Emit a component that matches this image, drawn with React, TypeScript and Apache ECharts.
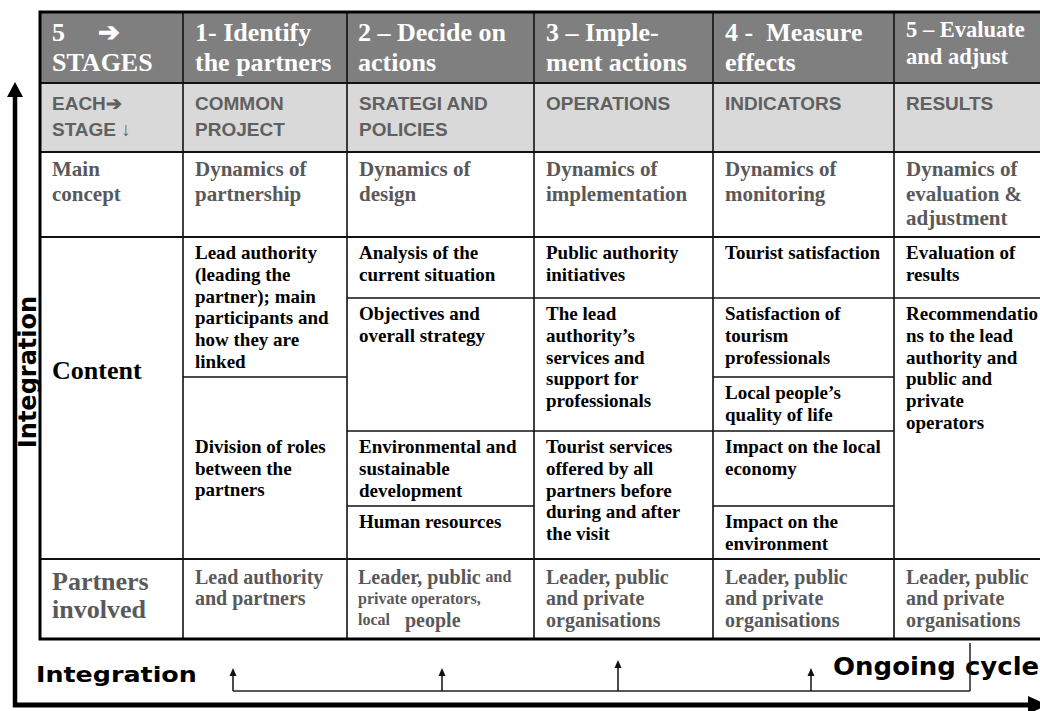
import React, { useEffect, useRef } from "react";
import * as echarts from "echarts";

// ---- texts (data) ----
const stageTitles = [
  "5     ➔\nSTAGES",
  "1- Identify\nthe partners",
  "2 – Decide on\nactions",
  "3 – Imple-\nment actions",
  "4 -  Measure\neffects",
  "5 – Evaluate\nand adjust",
];
const stageFocus = ["EACH➔\nSTAGE ↓", "COMMON\nPROJECT", "SRATEGI AND\nPOLICIES", "OPERATIONS", "INDICATORS", "RESULTS"];
const mainConcepts = [
  "Main\nconcept",
  "Dynamics of\npartnership",
  "Dynamics of\ndesign",
  "Dynamics of\nimplementation",
  "Dynamics of\nmonitoring",
  "Dynamics of\nevaluation &\nadjustment",
];
const contentLabel = "Content";
const contentIdentify = [
  "Lead authority\n(leading the\npartner); main\nparticipants and\nhow they are\nlinked",
  "Division of roles\nbetween the\npartners",
];
const contentDecide = [
  "Analysis of the\ncurrent situation",
  "Objectives and\noverall strategy",
  "Environmental and\nsustainable\ndevelopment",
  "Human resources",
];
const contentImplement = [
  "Public authority\ninitiatives",
  "The lead\nauthority’s\nservices and\nsupport for\nprofessionals",
  "Tourist services\noffered by all\npartners before\nduring and after\nthe visit",
];
const contentMeasure = [
  "Tourist satisfaction",
  "Satisfaction of\ntourism\nprofessionals",
  "Local people’s\nquality of life",
  "Impact on the local\neconomy",
  "Impact on the\nenvironment",
];
const contentEvaluate = [
  "Evaluation of\nresults",
  "Recommendatio\nns to the lead\nauthority and\npublic and\nprivate\noperators",
];
const partnersInvolved = [
  "Partners\ninvolved",
  "Lead authority\nand partners",
  "{b|Leader, public} {s|and}\n{s|private operators,}\n{s|local}   {b|people}",
  "Leader, public\nand private\norganisations",
  "Leader, public\nand private\norganisations",
  "Leader, public\nand private\norganisations",
];
const verticalAxisLabel = "Integration";
const bottomLeftLabel = "Integration";
const bottomRightLabel = "Ongoing cycle";

// ---- layout ----
const colX = [40, 183, 347, 534, 713, 894, 1076];
const rowY = [12, 83, 152, 237, 559, 639];
const contentColumns = [contentIdentify, contentDecide, contentImplement, contentMeasure, contentEvaluate];
const contentSplits = [
  [237, 377, 559],
  [237, 298, 431, 506, 559],
  [237, 298, 431, 559],
  [237, 298, 377, 431, 506, 559],
  [237, 298, 559],
];

const SERIF = "'Liberation Serif', 'Times New Roman', serif";
const SANS = "'Liberation Sans', Arial, sans-serif";
const HEAVY = "'DejaVu Sans', Verdana, sans-serif";
const GRAY_TEXT = "#595959";

function txt(x: number, y: number, text: string, s: any, extra: any = {}) {
  return {
    type: "text",
    x,
    y,
    silent: true,
    ...extra,
    style: {
      text,
      align: "left",
      verticalAlign: "top",
      fontWeight: "bold",
      ...s,
    },
  };
}
function ln(x1: number, y1: number, x2: number, y2: number, w = 1.6, c = "#111") {
  return { type: "line", silent: true, shape: { x1, y1, x2, y2 }, style: { stroke: c, lineWidth: w } };
}
function tri(points: number[][], c = "#000") {
  return { type: "polygon", silent: true, shape: { points }, style: { fill: c } };
}

function buildElements() {
  const els: any[] = [];
  const left = colX[0];
  const right = colX[colX.length - 1];
  // backgrounds
  els.push({ type: "rect", shape: { x: left, y: rowY[0], width: right - left, height: rowY[1] - rowY[0] }, style: { fill: "#7f7f7f" } });
  els.push({ type: "rect", shape: { x: left, y: rowY[1], width: right - left, height: rowY[2] - rowY[1] }, style: { fill: "#d9d9d9" } });

  // row lines
  [rowY[1], rowY[2], rowY[3], rowY[4]].forEach((y) => els.push(ln(left, y, right, y, 2)));
  // column lines
  for (let c = 1; c < colX.length - 1; c++) els.push(ln(colX[c], rowY[0], colX[c], rowY[5], 1.6));
  // content sub-cell lines
  contentSplits.forEach((splits, i) => {
    const c = i + 1;
    splits.slice(1, -1).forEach((y) => els.push(ln(colX[c], y, colX[c + 1], y, 1.6)));
  });
  // outer frame
  els.push({ type: "rect", shape: { x: left, y: rowY[0], width: right - left, height: rowY[5] - rowY[0] }, style: { fill: "none", stroke: "#000", lineWidth: 3 } });

  // header texts
  stageTitles.forEach((t, i) => {
    const last = i === stageTitles.length - 1;
    els.push(
      txt(colX[i] + (i === 2 ? 11 : 12), last ? 16 : 17, t, {
        fill: "#fff",
        fontFamily: SERIF,
        fontSize: last ? 22.5 : 26,
        lineHeight: last ? 27 : 30,
      })
    );
  });
  stageFocus.forEach((t, i) => {
    els.push(txt(colX[i] + 12, 91, t, { fill: "#606060", fontFamily: SANS, fontSize: 19, lineHeight: 25.5 }));
  });
  mainConcepts.forEach((t, i) => {
    els.push(txt(colX[i] + 12, 157, t, { fill: GRAY_TEXT, fontFamily: SERIF, fontSize: 21, lineHeight: 24.5 }));
  });
  // content label
  els.push(txt(colX[0] + 12, 370, contentLabel, { fill: "#000", fontFamily: SERIF, fontSize: 26, verticalAlign: "middle" }));
  // content cells
  contentColumns.forEach((cells, i) => {
    const c = i + 1;
    const splits = contentSplits[i];
    cells.forEach((t, k) => {
      const top = splits[k];
      const bottom = splits[k + 1];
      const centered = i === 0 && k === 1;
      els.push(
        txt(colX[c] + 12, centered ? (top + bottom) / 2 : top + 5, t, {
          fill: "#000",
          fontFamily: SERIF,
          fontSize: 19,
          lineHeight: 21.7,
          verticalAlign: centered ? "middle" : "top",
        })
      );
    });
  });
  // partners row
  partnersInvolved.forEach((t, i) => {
    if (i === 0) {
      els.push(txt(colX[0] + 12, 567, t, { fill: GRAY_TEXT, fontFamily: SERIF, fontSize: 26, lineHeight: 28 }));
    } else if (i === 2) {
      els.push(
        txt(colX[i] + 11, 566, t, {
          fill: GRAY_TEXT,
          fontFamily: SERIF,
          fontSize: 20,
          lineHeight: 21.5,
          rich: {
            b: { fill: GRAY_TEXT, fontFamily: SERIF, fontSize: 20, fontWeight: "bold", lineHeight: 21.5 },
            s: { fill: GRAY_TEXT, fontFamily: SERIF, fontSize: 16, fontWeight: "bold", lineHeight: 21.5 },
          },
        })
      );
    } else {
      els.push(txt(colX[i] + 12, 566, t, { fill: GRAY_TEXT, fontFamily: SERIF, fontSize: 20, lineHeight: 21.5 }));
    }
  });

  // outer bracket: left vertical arrow and bottom horizontal arrow
  els.push(ln(15, 95, 15, 707, 4.5, "#000"));
  els.push(tri([[7, 97], [15, 82], [23, 97]]));
  els.push(ln(13, 705, 1030, 705, 5, "#000"));
  els.push(tri([[1028, 696], [1048, 705], [1028, 714]]));

  // vertical label
  els.push({
    type: "text",
    x: 28,
    y: 372,
    rotation: Math.PI / 2,
    silent: true,
    style: { text: verticalAxisLabel, fontFamily: HEAVY, fontWeight: "bold", fontSize: 24, fill: "#000", align: "center", verticalAlign: "middle" },
  });
  // bottom labels
  els.push(txt(36, 686, bottomLeftLabel, { fill: "#000", fontFamily: HEAVY, fontSize: 21.5, verticalAlign: "bottom" }, { scaleX: 1.18 }));
  els.push(txt(833, 679, bottomRightLabel, { fill: "#000", fontFamily: HEAVY, fontSize: 24.5, verticalAlign: "bottom" }, { scaleX: 1.06 }));

  // connector with arrows
  els.push(ln(233, 691, 970, 691, 1.5, "#222"));
  els.push(ln(970, 643, 970, 691, 1.5, "#222"));
  [
    [233, 668],
    [442, 668],
    [618, 660],
    [811, 668],
  ].forEach(([x, tip]) => {
    els.push(ln(x, tip + 6, x, 691, 1.5, "#111"));
    els.push(tri([[x - 3.5, tip + 8], [x, tip], [x + 3.5, tip + 8]], "#111"));
  });
  return els;
}

export default function App() {
  const ref = useRef<HTMLDivElement>(null);
  useEffect(() => {
    document.body.style.margin = "0";
    const chart = echarts.init(ref.current!, null, { renderer: "svg" });
    chart.setOption({
      animation: false,
      backgroundColor: "#ffffff",
      graphic: { elements: buildElements() },
    });
    return () => chart.dispose();
  }, []);
  return <div ref={ref} style={{ width: 1040, height: 711 }} />;
}
